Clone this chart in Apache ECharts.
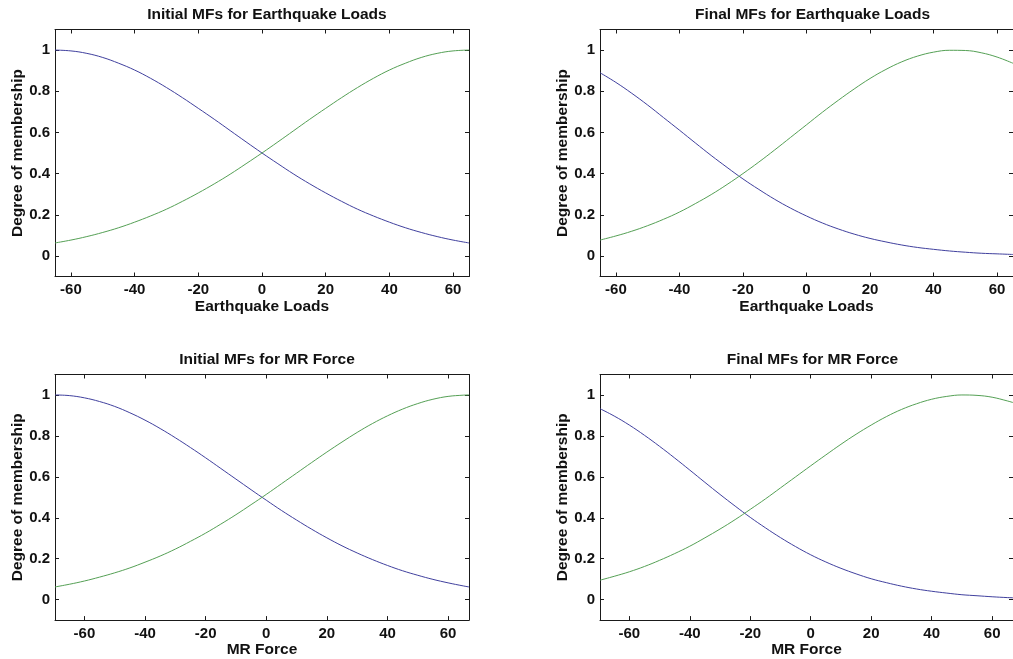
<!DOCTYPE html>
<html>
<head>
<meta charset="utf-8">
<script src="https://cdn.jsdelivr.net/npm/echarts@6/dist/echarts.min.js"></script>
<style>
html,body{margin:0;padding:0;background:#fff;}
#chart{width:1013px;height:659px;}
</style>
</head>
<body>
<div id="chart"></div>
<script>
// ---- data ----
var titles = ['Initial MFs for Earthquake Loads', 'Final MFs for Earthquake Loads', 'Initial MFs for MR Force', 'Final MFs for MR Force'];
var xNames = ['Earthquake Loads', 'Earthquake Loads', 'MR Force', 'MR Force'];
var yName = 'Degree of membership';
var xTicks = [-60, -40, -20, 0, 20, 40, 60];
var yTicks = [0, 0.2, 0.4, 0.6, 0.8, 1];
var eqRange = [-65, 65];
var mrRange = [-69.7, 66.9];

var xEq = [-65,-60,-55,-50,-45,-40,-35,-30,-25,-20,-15,-10,-5,0,5,10,15,20,25,30,35,40,45,50,55,60,65];
var xMr = [-69.7,-65,-60,-55,-50,-45,-40,-35,-30,-25,-20,-15,-10,-5,0,5,10,15,20,25,30,35,40,45,50,55,60,65,66.9];

var eqInitLow  = [1.000,0.996,0.984,0.964,0.936,0.903,0.863,0.818,0.769,0.717,0.664,0.609,0.554,0.500,0.448,0.397,0.350,0.306,0.265,0.227,0.194,0.164,0.137,0.114,0.094,0.077,0.063];
var eqInitHigh = [0.063,0.077,0.094,0.114,0.137,0.164,0.194,0.227,0.265,0.306,0.350,0.397,0.448,0.500,0.554,0.609,0.664,0.717,0.769,0.818,0.863,0.903,0.936,0.964,0.984,0.996,1.000];
var eqFinalLow  = [0.890,0.843,0.790,0.733,0.672,0.611,0.549,0.488,0.430,0.374,0.323,0.275,0.232,0.194,0.160,0.131,0.106,0.085,0.068,0.053,0.041,0.032,0.024,0.018,0.013,0.010,0.007];
var eqFinalHigh = [0.077,0.097,0.120,0.147,0.178,0.213,0.254,0.298,0.347,0.400,0.456,0.515,0.576,0.637,0.698,0.756,0.811,0.862,0.906,0.943,0.971,0.990,0.999,0.998,0.987,0.966,0.936];

var mrInitLow  = [1.000,0.997,0.986,0.968,0.944,0.913,0.877,0.836,0.791,0.743,0.693,0.641,0.589,0.537,0.486,0.436,0.389,0.344,0.302,0.263,0.228,0.196,0.167,0.141,0.119,0.099,0.082,0.067,0.062];
var mrInitHigh = [0.062,0.075,0.091,0.110,0.131,0.155,0.183,0.213,0.247,0.285,0.325,0.369,0.415,0.464,0.514,0.566,0.618,0.670,0.721,0.770,0.817,0.860,0.898,0.931,0.958,0.979,0.993,0.999,1.000];
var mrFinalLow  = [0.933,0.897,0.853,0.803,0.749,0.692,0.633,0.573,0.514,0.457,0.402,0.351,0.303,0.259,0.219,0.184,0.153,0.126,0.102,0.083,0.066,0.052,0.041,0.032,0.024,0.019,0.014,0.010,0.009];
var mrFinalHigh = [0.095,0.114,0.136,0.162,0.192,0.225,0.261,0.302,0.345,0.391,0.441,0.492,0.546,0.600,0.654,0.707,0.759,0.808,0.853,0.894,0.929,0.957,0.979,0.993,1.000,0.998,0.989,0.971,0.963];

// ---- layout / style ----
var FONT = '"Liberation Sans", Arial, Helvetica, sans-serif';
var AX = '#1a1a1a';
var TXT = '#111';
var BLUE = '#40409e';
var GREEN = '#55a055';
var grids = [
  {left: 55,  top: 29.5,  width: 414, height: 247},
  {left: 600, top: 29.5,  width: 415, height: 247},
  {left: 55,  top: 374.5, width: 414, height: 246},
  {left: 600, top: 374.5, width: 415, height: 246}
];
var ranges = [eqRange, eqRange, mrRange, mrRange];
var xs = [xEq, xEq, xMr, xMr];
var lows = [eqInitLow, eqFinalLow, mrInitLow, mrFinalLow];
var highs = [eqInitHigh, eqFinalHigh, mrInitHigh, mrFinalHigh];
var titleTops = [2, 2, 347, 347];

function pairs(x, y) { return x.map(function (v, i) { return [v, y[i]]; }); }

var option = {
  animation: false,
  backgroundColor: '#fff',
  title: [], grid: [], xAxis: [], yAxis: [], series: []
};

for (var i = 0; i < 4; i++) {
  var g = grids[i];
  option.grid.push({left: g.left, top: g.top, width: g.width, height: g.height, containLabel: false});
  option.title.push({
    text: titles[i], left: g.left + g.width / 2, top: titleTops[i], textAlign: 'center',
    textStyle: {fontFamily: FONT, fontSize: 15.5, fontWeight: 'bold', color: TXT}
  });
  var tick = {show: true, inside: true, length: 4, lineStyle: {color: AX}};
  var xcommon = {
    type: 'value', gridIndex: i, min: ranges[i][0], max: ranges[i][1],
    axisLine: {show: true, onZero: false, lineStyle: {color: AX, width: 1}},
    splitLine: {show: false}
  };
  option.xAxis.push(Object.assign({}, xcommon, {
    position: 'bottom', name: xNames[i], nameLocation: 'middle', nameGap: 21,
    nameTextStyle: {fontFamily: FONT, fontSize: 15.5, fontWeight: 'bold', color: TXT},
    axisTick: Object.assign({customValues: xTicks}, tick),
    axisLabel: {show: true, margin: 6, customValues: xTicks, fontFamily: FONT, fontSize: 15, fontWeight: 'bold', color: TXT}
  }));
  option.xAxis.push(Object.assign({}, xcommon, {
    position: 'top',
    axisTick: Object.assign({customValues: xTicks}, tick),
    axisLabel: {show: false}
  }));
  var ycommon = {
    type: 'value', gridIndex: i, min: -0.1, max: 1.1,
    axisLine: {show: true, onZero: false, lineStyle: {color: AX, width: 1}},
    splitLine: {show: false}
  };
  option.yAxis.push(Object.assign({}, ycommon, {
    position: 'left', name: yName, nameLocation: 'middle', nameGap: 29, nameRotate: 90,
    nameTextStyle: {fontFamily: FONT, fontSize: 15.5, fontWeight: 'bold', color: TXT},
    axisTick: Object.assign({customValues: yTicks}, tick),
    axisLabel: {show: true, margin: 5, customValues: yTicks, fontFamily: FONT, fontSize: 15, fontWeight: 'bold', color: TXT}
  }));
  option.yAxis.push(Object.assign({}, ycommon, {
    position: 'right',
    axisTick: Object.assign({customValues: yTicks}, tick),
    axisLabel: {show: false}
  }));
  option.series.push({
    type: 'line', xAxisIndex: 2 * i, yAxisIndex: 2 * i, data: pairs(xs[i], lows[i]),
    showSymbol: false, smooth: 0.4, lineStyle: {color: BLUE, width: 1}, silent: true
  });
  option.series.push({
    type: 'line', xAxisIndex: 2 * i, yAxisIndex: 2 * i, data: pairs(xs[i], highs[i]),
    showSymbol: false, smooth: 0.4, lineStyle: {color: GREEN, width: 1}, silent: true
  });
}

var chart = echarts.init(document.getElementById('chart'), null, {renderer: 'canvas'});
chart.setOption(option);
</script>
</body>
</html>
